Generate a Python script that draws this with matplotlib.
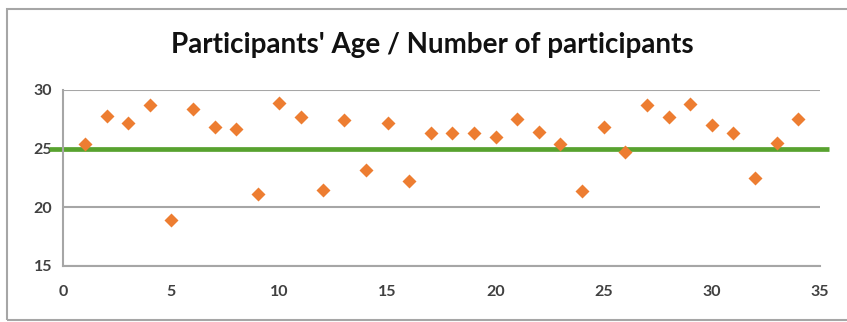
import matplotlib.pyplot as plt
from matplotlib.patches import Rectangle

# participant number vs age
participant = list(range(1, 35))
age = [25.4, 27.8, 27.2, 28.7, 18.9, 28.4, 26.8, 26.7, 21.1, 28.9,
       27.7, 21.5, 27.4, 23.2, 27.2, 22.2, 26.3, 26.3, 26.3, 26.0,
       27.5, 26.4, 25.4, 21.4, 26.8, 24.7, 28.7, 27.7, 28.8, 27.0,
       26.3, 22.5, 25.5, 27.5]
mean_age = 25

x_ticks = [0, 5, 10, 15, 20, 25, 30, 35]
y_ticks = [15, 20, 25, 30]

plt.rcParams['font.family'] = ['Lato', 'DejaVu Sans']

fig = plt.figure(figsize=(8.47, 3.22), dpi=100)
# chart area frame
fig.patches.append(Rectangle((7 / 847, 2 / 322), 1.0, 311 / 322,
                             transform=fig.transFigure, fill=False,
                             edgecolor='#a6a6a6', lw=1.5))

ax = fig.add_axes([0.0747, 0.1748, 0.8933, 0.5457])
ax.set_xlim(0, 35)
ax.set_ylim(15, 30)
ax.set_xticks(x_ticks)
ax.set_yticks(y_ticks)
ax.grid(axis='y', color='#a6a6a6', lw=1.5)
ax.set_axisbelow(True)
for side in ['top', 'right']:
    ax.spines[side].set_visible(False)
for side in ['left', 'bottom']:
    ax.spines[side].set_color('#a6a6a6')
    ax.spines[side].set_linewidth(1.5)
ax.tick_params(length=0, labelsize=11.5, colors='#404040', pad=8)
ax.tick_params(axis='x', pad=14)
for lbl in ax.get_xticklabels() + ax.get_yticklabels():
    lbl.set_fontweight('bold')

# mean line runs a little past the plot edges
ax.plot([-0.65, 35.4], [mean_age, mean_age], color='#58a22f', lw=3.4,
        clip_on=False, zorder=2, solid_capstyle='butt')
ax.plot(participant, age, 'D', color='#ed7d31', ms=7, mec='none', zorder=3)

fig.text(0.51, 0.86, "Participants' Age / Number of participants",
         ha='center', va='center', fontsize=20, fontweight='bold', color='#111111')

fig.savefig('out.png', dpi=100)
